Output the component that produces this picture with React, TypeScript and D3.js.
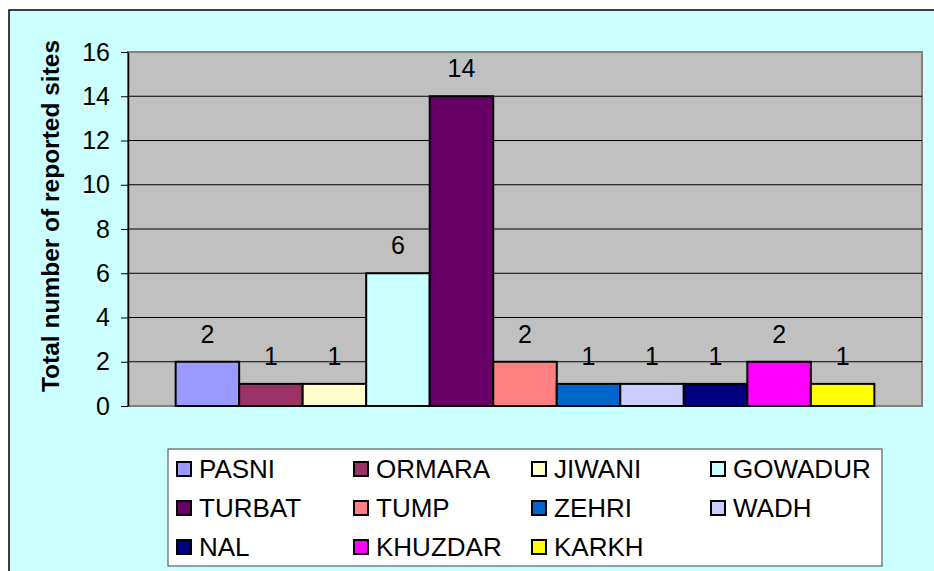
import React, { useEffect, useRef } from 'react';
import * as d3 from 'd3';

const sites = ['PASNI', 'ORMARA', 'JIWANI', 'GOWADUR', 'TURBAT', 'TUMP', 'ZEHRI', 'WADH', 'NAL', 'KHUZDAR', 'KARKH'];
const counts = [2, 1, 1, 6, 14, 2, 1, 1, 1, 2, 1];
const colors = ['#9999FF', '#993366', '#FFFFCC', '#CCFFFF', '#660066', '#FF8080', '#0066CC', '#CCCCFF', '#000080', '#FF00FF', '#FFFF00'];
const yTicks = [0, 2, 4, 6, 8, 10, 12, 14, 16];

const App: React.FC = () => {
  const svgRef = useRef<SVGSVGElement>(null);

  useEffect(() => {
    if (!svgRef.current) return;
    const width = 934;
    const height = 571;
    const font = 'Arial, "Liberation Sans", sans-serif';

    const svg = d3.select(svgRef.current);
    svg.selectAll('*').remove();

    svg.append('rect').attr('width', width).attr('height', height).attr('fill', '#ffffff');

    // chart frame, runs off the right and bottom edges
    svg.append('rect')
      .attr('x', 9).attr('y', 10)
      .attr('width', 1000).attr('height', 700)
      .attr('fill', '#CCFFFF')
      .attr('stroke', '#000').attr('stroke-width', 1.5);

    const plot = { left: 128, top: 52, right: 922, bottom: 406 };

    const x = d3.scaleBand<string>()
      .domain(sites)
      .range([plot.left, plot.right])
      .paddingInner(0)
      .paddingOuter(0.75);

    const y = d3.scaleLinear().domain([0, 16]).range([plot.bottom, plot.top]);

    svg.append('rect')
      .attr('x', plot.left).attr('y', plot.top)
      .attr('width', plot.right - plot.left).attr('height', plot.bottom - plot.top)
      .attr('fill', '#C0C0C0')
      .attr('stroke', '#808080').attr('stroke-width', 2);

    // gridlines
    svg.append('g')
      .selectAll('line')
      .data(yTicks.filter(t => t > 0 && t < 16))
      .enter().append('line')
      .attr('x1', plot.left).attr('x2', plot.right)
      .attr('y1', d => y(d)).attr('y2', d => y(d))
      .attr('stroke', '#000').attr('stroke-width', 1);

    // y axis
    const axis = svg.append('g')
      .attr('transform', `translate(${plot.left},0)`)
      .call(d3.axisLeft(y).tickValues(yTicks).tickSize(7).tickPadding(11).tickSizeOuter(0));
    axis.select('.domain').attr('stroke', '#000').attr('stroke-width', 1.5);
    axis.selectAll('.tick line').attr('stroke', '#000');
    axis.selectAll('.tick text')
      .attr('font-family', font).attr('font-size', 25).attr('fill', '#000');

    // bars
    svg.append('g')
      .selectAll('rect')
      .data(sites)
      .enter().append('rect')
      .attr('x', d => x(d)!)
      .attr('y', (d, i) => y(counts[i]))
      .attr('width', x.bandwidth())
      .attr('height', (d, i) => y(0) - y(counts[i]))
      .attr('fill', (d, i) => colors[i])
      .attr('stroke', '#000').attr('stroke-width', 2);

    // value labels
    svg.append('g')
      .selectAll('text')
      .data(sites)
      .enter().append('text')
      .attr('x', d => x(d)! + x.bandwidth() / 2)
      .attr('y', (d, i) => y(counts[i]) - 19)
      .attr('text-anchor', 'middle')
      .attr('font-family', font).attr('font-size', 25)
      .text((d, i) => counts[i]);

    // y title
    svg.append('text')
      .attr('transform', `translate(59,216) rotate(-90)`)
      .attr('text-anchor', 'middle')
      .attr('font-family', font).attr('font-size', 24.5).attr('font-weight', 'bold')
      .text('Total number of reported sites');

    // legend
    svg.append('rect')
      .attr('x', 168).attr('y', 449)
      .attr('width', 714).attr('height', 117)
      .attr('fill', '#fff')
      .attr('stroke', '#404040').attr('stroke-width', 1);

    const colX = [177, 354, 532, 711];
    const rowY = [469, 508, 547];
    const item = svg.append('g')
      .selectAll('g')
      .data(sites)
      .enter().append('g')
      .attr('transform', (d, i) => `translate(${colX[i % 4]},${rowY[Math.floor(i / 4)]})`);
    item.append('rect')
      .attr('x', 0).attr('y', -7)
      .attr('width', 14).attr('height', 14)
      .attr('fill', (d, i) => colors[i])
      .attr('stroke', '#000').attr('stroke-width', 2);
    item.append('text')
      .attr('x', 22).attr('y', 9)
      .attr('font-family', font).attr('font-size', 26)
      .text(d => d);
  }, []);

  return (
    <svg
      ref={svgRef}
      width={934}
      height={571}
      style={{ position: 'absolute', left: 0, top: 0 }}
    />
  );
};

export default App;
